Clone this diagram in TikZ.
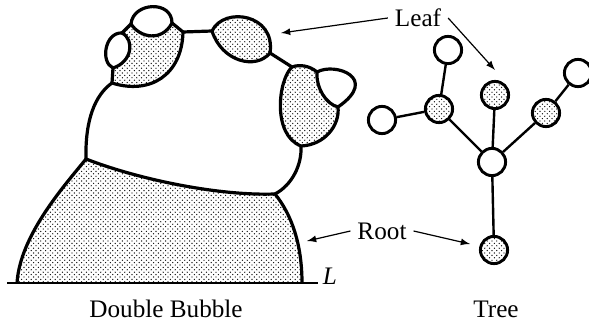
\documentclass[tikz,border=0pt]{standalone}
\usepackage{fontspec}
\setmainfont{Liberation Serif}
\usetikzlibrary{patterns,arrows}
\pgfdeclarepatternformonly{stipple}{\pgfqpoint{-.5pt}{-.5pt}}{\pgfqpoint{2.9pt}{2.9pt}}{\pgfqpoint{2.4pt}{2.4pt}}{%
\pgfpathcircle{\pgfqpoint{0pt}{0pt}}{.33pt}%
\pgfpathcircle{\pgfqpoint{1.2pt}{1.2pt}}{.33pt}%
\pgfusepath{fill}}
\tikzset{
wall/.style={line width=1.6pt, line join=round},
cell/.style={wall, pattern=stipple},
vtx/.style={circle, draw, line width=1.45pt, minimum size=13.6pt, inner sep=0pt, fill=white},
fullvtx/.style={vtx, pattern=stipple},
branch/.style={line width=1.2pt},
pointer/.style={-latex, line width=.6pt},
}
\begin{document}
\begin{tikzpicture}[x=.5pt, y=-.5pt, font=\fontsize{12.6}{15}\selectfont]
\useasboundingbox (0,0) rectangle (589,325);
\coordinate (j1) at (112,83);
\coordinate (j2) at (113,68);
\coordinate (j3) at (122,33);
\coordinate (j4) at (131,24);
\coordinate (j5) at (172,23);
\coordinate (j6) at (183,32);
\coordinate (j7) at (212,31);
\coordinate (j8) at (270,53);
\coordinate (j9) at (292,67);
\coordinate (j10) at (317,72);
\coordinate (j11) at (338,107);
\coordinate (j12) at (301,146);
\coordinate (j13) at (275,194);
\coordinate (j14) at (86,159);
\coordinate (g1) at (17,283);
\coordinate (g2) at (302,283);
\draw[cell] (g1) .. controls (20,235) and (65,185) .. (j14) .. controls (140,180) and (220,196) .. (j13) .. controls (292,215) and (302,245) .. (g2);
\draw[cell] (j1) -- (j2) .. controls (132,62) and (135,40) .. (j3) -- (j4) .. controls (140,38) and (162,42) .. (j5) -- (j6) .. controls (182,75) and (150,95) .. (j1) -- cycle;
\draw[cell] (j7) .. controls (224,6) and (276,14) .. (j8) .. controls (256,70) and (222,62) .. (j7) -- cycle;
\draw[cell] (j9) .. controls (300,64) and (310,66) .. (j10) .. controls (316,88) and (326,104) .. (j11) .. controls (340,125) and (325,145) .. (j12) .. controls (272,135) and (278,80) .. (j9) -- cycle;
\draw[wall] (j3) .. controls (105,32) and (100,62) .. (j2);
\draw[wall] (j4) .. controls (133,2) and (172,0) .. (j5);
\draw[wall] (j10) .. controls (335,62) and (380,78) .. (j11);
\draw[wall] (j6) -- (j7) (j8) -- (j9);
\draw[wall] (j1) .. controls (95,95) and (85,120) .. (j14);
\draw[wall] (j12) .. controls (302,165) and (292,185) .. (j13);
\draw[line width=1.3pt] (7,283) -- (318,283);
\node (ell) at (330,276) {\textit{L}};
\node[fullvtx] (rootv) at (494,250) {};
\node[vtx] (hub) at (492,162) {};
\node[fullvtx] (lmid) at (439,109) {};
\node[vtx] (lleaf) at (382,120) {};
\node[vtx] (uleaf) at (448,50) {};
\node[fullvtx] (cleaf) at (495,95) {};
\node[fullvtx] (rmid) at (546,113) {};
\node[vtx] (rleaf) at (578,73) {};
\draw[branch] (rootv) -- (hub) (hub) -- (lmid) (hub) -- (cleaf) (hub) -- (rmid) (lmid) -- (lleaf) (lmid) -- (uleaf) (rmid) -- (rleaf);
\node (leaf) at (418,18) {Leaf};
\node (root) at (382,231) {Root};
\node (dbl) at (166,309) {Double Bubble};
\node (tree) at (496,309) {Tree};
\coordinate (leafa) at (281,33);
\coordinate (leafb) at (495,70);
\coordinate (roota) at (307,241);
\coordinate (rootb) at (470,244);
\draw[pointer] (leaf.west) -- (leafa);
\draw[pointer] (leaf.east) -- (leafb);
\draw[pointer] (root.west) -- (roota);
\draw[pointer] (root.east) -- (rootb);
\end{tikzpicture}
\end{document}
